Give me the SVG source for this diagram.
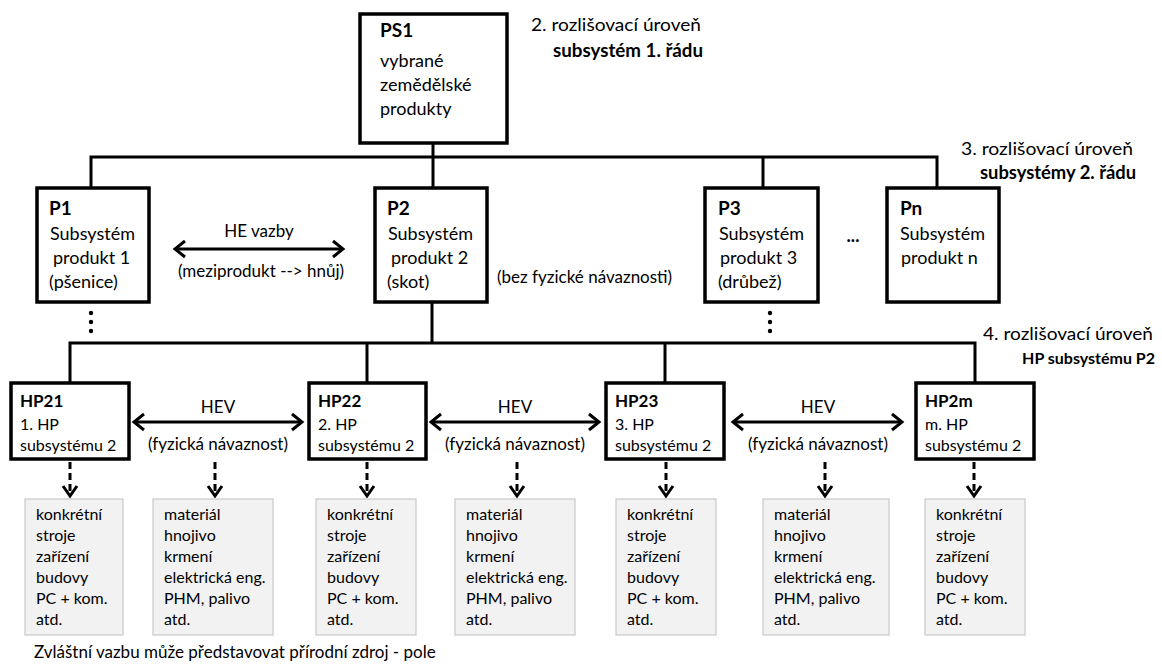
<svg xmlns="http://www.w3.org/2000/svg" width="1162" height="664" viewBox="0 0 1162 664">
  <style>
    text { font-family: Lato, "Liberation Sans", sans-serif; fill: #000; }
    .t { font-size: 18px; }
    .tb { font-size: 19px; font-weight: bold; }
    .h { font-size: 16px; }
    .hb { font-size: 17px; font-weight: bold; }
    .g { font-size: 16px; }
    .lv { font-size: 18px; }
    .lvb { font-size: 18px; font-weight: bold; }
    .lab { font-size: 17px; }
    .box { fill: #fff; stroke: #000; stroke-width: 3.5; }
    .gbox { fill: #f2f2f2; stroke: #c8c8c8; stroke-width: 1.2; }
    .ln { fill: none; stroke: #000; stroke-width: 3; }
    .dash { fill: none; stroke: #000; stroke-width: 3; stroke-dasharray: 7 4; }
    .head { fill: none; stroke: #000; stroke-width: 3; stroke-linejoin: miter; }
  </style>

  <!-- tree connectors and relationship arrows -->
  <g id="connectors">
    <!-- PS1 to level 2 -->
    <line class="ln" x1="433" y1="143" x2="433" y2="188"/>
    <polyline class="ln" points="91,188 91,157 937,157 937,188"/>
    <line class="ln" x1="763" y1="157" x2="763" y2="188"/>
    <!-- P2 to its HP subsystems -->
    <line class="ln" x1="432" y1="302" x2="432" y2="343"/>
    <polyline class="ln" points="70,383 70,343 975,343 975,383"/>
    <line class="ln" x1="367" y1="343" x2="367" y2="383"/>
    <line class="ln" x1="665" y1="343" x2="665" y2="383"/>

    <!-- continuation dots -->
    <g fill="#000">
      <circle cx="91" cy="313" r="2.2"/><circle cx="91" cy="322" r="2.2"/><circle cx="91" cy="331" r="2.2"/>
      <circle cx="770" cy="313" r="2.2"/><circle cx="770" cy="322" r="2.2"/><circle cx="770" cy="331" r="2.2"/>
    </g>

    <!-- HE link P1 <-> P2 -->
    <line class="ln" x1="176" y1="249" x2="342" y2="249"/>
    <polyline class="head" points="185,241 175,249 185,257"/>
    <polyline class="head" points="333,241 343,249 333,257"/>

    <!-- HEV links between HP boxes -->
    <line class="ln" x1="135" y1="422" x2="301" y2="422"/>
    <polyline class="head" points="144,414 134,422 144,430"/>
    <polyline class="head" points="292,414 302,422 292,430"/>

    <line class="ln" x1="432" y1="422" x2="598" y2="422"/>
    <polyline class="head" points="441,414 431,422 441,430"/>
    <polyline class="head" points="589,414 599,422 589,430"/>

    <line class="ln" x1="734" y1="422" x2="901" y2="422"/>
    <polyline class="head" points="743,414 733,422 743,430"/>
    <polyline class="head" points="892,414 902,422 892,430"/>

    <!-- dashed links to resource lists -->
    <line class="dash" x1="70" y1="462" x2="70" y2="494"/>
    <polyline class="head" points="63,486 70,496 77,486"/>
    <line class="dash" x1="215" y1="462" x2="215" y2="494"/>
    <polyline class="head" points="208,486 215,496 222,486"/>
    <line class="dash" x1="367" y1="462" x2="367" y2="494"/>
    <polyline class="head" points="360,486 367,496 374,486"/>
    <line class="dash" x1="517" y1="462" x2="517" y2="494"/>
    <polyline class="head" points="510,486 517,496 524,486"/>
    <line class="dash" x1="666" y1="462" x2="666" y2="494"/>
    <polyline class="head" points="659,486 666,496 673,486"/>
    <line class="dash" x1="825" y1="462" x2="825" y2="494"/>
    <polyline class="head" points="818,486 825,496 832,486"/>
    <line class="dash" x1="974" y1="462" x2="974" y2="494"/>
    <polyline class="head" points="967,486 974,496 981,486"/>
  </g>

  <!-- link labels -->
  <g id="link-labels">
    <text class="lab" x="259" y="237" text-anchor="middle">HE vazby</text>
    <text class="lab" x="261" y="277" text-anchor="middle">(meziprodukt --&gt; hnůj)</text>
    <text class="lab" x="497" y="283">(bez fyzické návaznosti)</text>
    <text class="t" x="853" y="242" text-anchor="middle" font-weight="bold">...</text>
    <text class="lab" x="218" y="413" text-anchor="middle">HEV</text>
    <text class="lab" x="218" y="450" text-anchor="middle">(fyzická návaznost)</text>
    <text class="lab" x="515" y="413" text-anchor="middle">HEV</text>
    <text class="lab" x="515" y="450" text-anchor="middle">(fyzická návaznost)</text>
    <text class="lab" x="818" y="413" text-anchor="middle">HEV</text>
    <text class="lab" x="818" y="450" text-anchor="middle">(fyzická návaznost)</text>
  </g>

  <!-- level captions -->
  <g id="levels">
    <text class="lv" x="531" y="31" textLength="170" lengthAdjust="spacingAndGlyphs">2. rozlišovací úroveň</text>
    <text class="lvb" x="553" y="57" textLength="150" lengthAdjust="spacingAndGlyphs">subsystém 1. řádu</text>
    <text class="lv" x="961" y="155" textLength="172" lengthAdjust="spacingAndGlyphs">3. rozlišovací úroveň</text>
    <text class="lvb" x="980" y="179" textLength="156" lengthAdjust="spacingAndGlyphs">subsystémy 2. řádu</text>
    <text class="lv" x="983" y="340" textLength="170" lengthAdjust="spacingAndGlyphs">4. rozlišovací úroveň</text>
    <text x="1155" y="364" text-anchor="end" font-size="16" font-weight="bold">HP subsystému P2</text>
  </g>

  <!-- level 1 -->
  <g id="PS1">
    <rect class="box" x="360" y="14" width="147" height="129"/>
    <text class="tb" x="380" y="37">PS1</text>
    <text class="t" x="380" y="67">vybrané</text>
    <text class="t" x="380" y="91">zemědělské</text>
    <text class="t" x="380" y="115">produkty</text>
  </g>

  <!-- level 2 -->
  <g id="P1">
    <rect class="box" x="37" y="188" width="112" height="114"/>
    <text class="tb" x="49" y="215">P1</text>
    <text class="t" x="50" y="240">Subsystém</text>
    <text class="t" x="53" y="264">produkt 1</text>
    <text class="t" x="49" y="288">(pšenice)</text>
  </g>
  <g id="P2">
    <rect class="box" x="375" y="188" width="112" height="114"/>
    <text class="tb" x="387" y="215">P2</text>
    <text class="t" x="388" y="240">Subsystém</text>
    <text class="t" x="391" y="264">produkt 2</text>
    <text class="t" x="387" y="288">(skot)</text>
  </g>
  <g id="P3">
    <rect class="box" x="705" y="188" width="113" height="114"/>
    <text class="tb" x="718" y="215">P3</text>
    <text class="t" x="719" y="240">Subsystém</text>
    <text class="t" x="720" y="264">produkt 3</text>
    <text class="t" x="718" y="288">(drůbež)</text>
  </g>
  <g id="Pn">
    <rect class="box" x="887" y="188" width="112" height="114"/>
    <text class="tb" x="900" y="215">Pn</text>
    <text class="t" x="900" y="240">Subsystém</text>
    <text class="t" x="901" y="264">produkt n</text>
  </g>

  <!-- level 3 -->
  <g id="HP21">
    <rect class="box" x="11" y="383" width="118" height="76"/>
    <text class="hb" x="20" y="407">HP21</text>
    <text class="h" x="20" y="430">1. HP</text>
    <text class="h" x="20" y="451">subsystému 2</text>
  </g>
  <g id="HP22">
    <rect class="box" x="309" y="383" width="117" height="76"/>
    <text class="hb" x="318" y="407">HP22</text>
    <text class="h" x="318" y="430">2. HP</text>
    <text class="h" x="318" y="451">subsystému 2</text>
  </g>
  <g id="HP23">
    <rect class="box" x="606" y="383" width="118" height="76"/>
    <text class="hb" x="615" y="407">HP23</text>
    <text class="h" x="615" y="430">3. HP</text>
    <text class="h" x="615" y="451">subsystému 2</text>
  </g>
  <g id="HP2m">
    <rect class="box" x="916" y="383" width="118" height="76"/>
    <text class="hb" x="925" y="407">HP2m</text>
    <text class="h" x="925" y="430">m. HP</text>
    <text class="h" x="925" y="451">subsystému 2</text>
  </g>

  <!-- resource lists -->
  <g id="R1">
    <rect class="gbox" x="25" y="499" width="98" height="136"/>
    <text class="g"><tspan x="36" y="520">konkrétní</tspan><tspan x="36" y="541">stroje</tspan><tspan x="36" y="562">zařízení</tspan><tspan x="36" y="583">budovy</tspan><tspan x="36" y="604">PC + kom.</tspan><tspan x="36" y="625">atd.</tspan></text>
  </g>
  <g id="R2">
    <rect class="gbox" x="153" y="499" width="120" height="136"/>
    <text class="g"><tspan x="164" y="520">materiál</tspan><tspan x="164" y="541">hnojivo</tspan><tspan x="164" y="562">krmení</tspan><tspan x="164" y="583">elektrická eng.</tspan><tspan x="164" y="604">PHM, palivo</tspan><tspan x="164" y="625">atd.</tspan></text>
  </g>
  <g id="R3">
    <rect class="gbox" x="316" y="499" width="100" height="136"/>
    <text class="g"><tspan x="327" y="520">konkrétní</tspan><tspan x="327" y="541">stroje</tspan><tspan x="327" y="562">zařízení</tspan><tspan x="327" y="583">budovy</tspan><tspan x="327" y="604">PC + kom.</tspan><tspan x="327" y="625">atd.</tspan></text>
  </g>
  <g id="R4">
    <rect class="gbox" x="455" y="499" width="120" height="136"/>
    <text class="g"><tspan x="466" y="520">materiál</tspan><tspan x="466" y="541">hnojivo</tspan><tspan x="466" y="562">krmení</tspan><tspan x="466" y="583">elektrická eng.</tspan><tspan x="466" y="604">PHM, palivo</tspan><tspan x="466" y="625">atd.</tspan></text>
  </g>
  <g id="R5">
    <rect class="gbox" x="616" y="499" width="100" height="136"/>
    <text class="g"><tspan x="627" y="520">konkrétní</tspan><tspan x="627" y="541">stroje</tspan><tspan x="627" y="562">zařízení</tspan><tspan x="627" y="583">budovy</tspan><tspan x="627" y="604">PC + kom.</tspan><tspan x="627" y="625">atd.</tspan></text>
  </g>
  <g id="R6">
    <rect class="gbox" x="763" y="499" width="126" height="136"/>
    <text class="g"><tspan x="774" y="520">materiál</tspan><tspan x="774" y="541">hnojivo</tspan><tspan x="774" y="562">krmení</tspan><tspan x="774" y="583">elektrická eng.</tspan><tspan x="774" y="604">PHM, palivo</tspan><tspan x="774" y="625">atd.</tspan></text>
  </g>
  <g id="R7">
    <rect class="gbox" x="925" y="499" width="100" height="136"/>
    <text class="g"><tspan x="936" y="520">konkrétní</tspan><tspan x="936" y="541">stroje</tspan><tspan x="936" y="562">zařízení</tspan><tspan x="936" y="583">budovy</tspan><tspan x="936" y="604">PC + kom.</tspan><tspan x="936" y="625">atd.</tspan></text>
  </g>

  <text class="lab" x="34" y="658">Zvláštní vazbu může představovat přírodní zdroj - pole</text>
</svg>
